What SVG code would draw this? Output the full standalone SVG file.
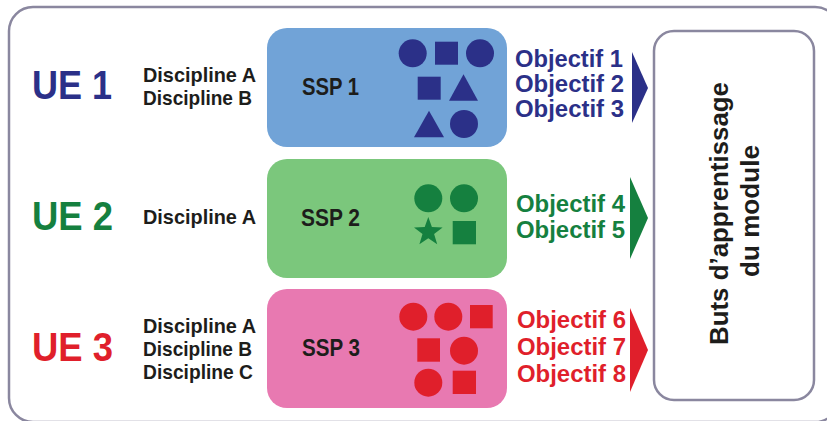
<svg xmlns="http://www.w3.org/2000/svg" width="827" height="421" viewBox="0 0 827 421">
<style>
text{font-family:"Liberation Sans",Arial,sans-serif;font-weight:bold}
.ue{font-size:41px}
.disc{font-size:21px;fill:#1d1d1b}
.ssp{font-size:24px;fill:#1d1d1b}
.obj{font-size:23px}
.blue{fill:#2b3088}
.green{fill:#15803f}
.red{fill:#e01f2b}
.frame{fill:#fff;stroke:#8a879f;stroke-width:2.5}
</style>
<rect class="frame" x="9" y="7" width="830" height="415" rx="24"/>
<g id="ue1">
<text class="ue blue" x="32" y="99" textLength="80" lengthAdjust="spacingAndGlyphs">UE 1</text>
<text class="disc" x="143" y="82" textLength="113" lengthAdjust="spacingAndGlyphs">Discipline A</text>
<text class="disc" x="143" y="105" textLength="109" lengthAdjust="spacingAndGlyphs">Discipline B</text>
</g>
<g id="ue2">
<text class="ue green" x="32" y="230" textLength="81" lengthAdjust="spacingAndGlyphs">UE 2</text>
<text class="disc" x="143" y="224" textLength="113" lengthAdjust="spacingAndGlyphs">Discipline A</text>
</g>
<g id="ue3">
<text class="ue red" x="32" y="361" textLength="81" lengthAdjust="spacingAndGlyphs">UE 3</text>
<text class="disc" x="143" y="333" textLength="113" lengthAdjust="spacingAndGlyphs">Discipline A</text>
<text class="disc" x="143" y="356" textLength="109" lengthAdjust="spacingAndGlyphs">Discipline B</text>
<text class="disc" x="143" y="379" textLength="110" lengthAdjust="spacingAndGlyphs">Discipline C</text>
</g>
<g id="ssp1">
<rect x="267" y="28" width="240" height="119" rx="20" fill="#71a3d7"/>
<text class="ssp" x="302" y="95" textLength="57" lengthAdjust="spacingAndGlyphs">SSP 1</text>
<g class="blue">
<circle cx="412.7" cy="53.3" r="14"/>
<rect x="435" y="41.7" width="23" height="23"/>
<circle cx="480" cy="53.3" r="14"/>
<rect x="417.7" y="76.7" width="23" height="23"/>
<polygon points="449,100.7 478,100.7 463.5,74.3"/>
<polygon points="414,137.3 444,137.3 429,110.7"/>
<circle cx="464" cy="124" r="14"/>
</g>
</g>
<g id="ssp2">
<rect x="267" y="159" width="240" height="119" rx="20" fill="#7bc77c"/>
<text class="ssp" x="301" y="226" textLength="59" lengthAdjust="spacingAndGlyphs">SSP 2</text>
<g class="green">
<circle cx="428.3" cy="198.3" r="14"/>
<circle cx="464" cy="198.3" r="14"/>
<polygon points="428.3,217 431.9,227 442.6,227.4 434.1,233.9 437.2,244.2 428.3,238.2 419.4,244.2 422.5,233.9 414,227.4 424.7,227"/>
<rect x="452.7" y="221" width="23.3" height="23.3"/>
</g>
</g>
<g id="ssp3">
<rect x="267" y="289" width="240" height="119" rx="20" fill="#e879b1"/>
<text class="ssp" x="302" y="356" textLength="58" lengthAdjust="spacingAndGlyphs">SSP 3</text>
<g class="red">
<circle cx="413.3" cy="316.7" r="14"/>
<circle cx="448.3" cy="316.7" r="14"/>
<rect x="470" y="305" width="22.7" height="23.3"/>
<rect x="417.3" y="338.3" width="22.7" height="23.4"/>
<circle cx="464" cy="350.7" r="14"/>
<circle cx="428.3" cy="382.7" r="14"/>
<rect x="452.7" y="370.7" width="23.3" height="23.3"/>
</g>
</g>
<g id="objectifs1" class="blue">
<text class="obj" x="515" y="66.7" textLength="108" lengthAdjust="spacingAndGlyphs">Objectif 1</text>
<text class="obj" x="515" y="91.7" textLength="109" lengthAdjust="spacingAndGlyphs">Objectif 2</text>
<text class="obj" x="515" y="116.5" textLength="109" lengthAdjust="spacingAndGlyphs">Objectif 3</text>
</g>
<g id="objectifs2" class="green">
<text class="obj" x="516" y="212" textLength="109" lengthAdjust="spacingAndGlyphs">Objectif 4</text>
<text class="obj" x="516" y="238" textLength="109" lengthAdjust="spacingAndGlyphs">Objectif 5</text>
</g>
<g id="objectifs3" class="red">
<text class="obj" x="517" y="328" textLength="109" lengthAdjust="spacingAndGlyphs">Objectif 6</text>
<text class="obj" x="517" y="355" textLength="109" lengthAdjust="spacingAndGlyphs">Objectif 7</text>
<text class="obj" x="517" y="382" textLength="109" lengthAdjust="spacingAndGlyphs">Objectif 8</text>
</g>
<g id="connectors">
<polygon class="blue" points="632,52 648,88 632,123"/>
<polygon class="green" points="630,177 648,218 630,259"/>
<polygon class="red" points="630,308 648,350 630,392"/>
</g>
<g id="buts">
<rect x="654" y="31" width="160" height="369" rx="20" fill="#fff" stroke="#8a879f" stroke-width="2.5"/>
<text transform="translate(728,213.5) rotate(-90)" text-anchor="middle" font-size="26" fill="#1d1d1b" textLength="263" lengthAdjust="spacingAndGlyphs">Buts d’apprentissage</text>
<text transform="translate(759,211) rotate(-90)" text-anchor="middle" font-size="26" fill="#1d1d1b" textLength="132" lengthAdjust="spacingAndGlyphs">du module</text>
</g>
</svg>
